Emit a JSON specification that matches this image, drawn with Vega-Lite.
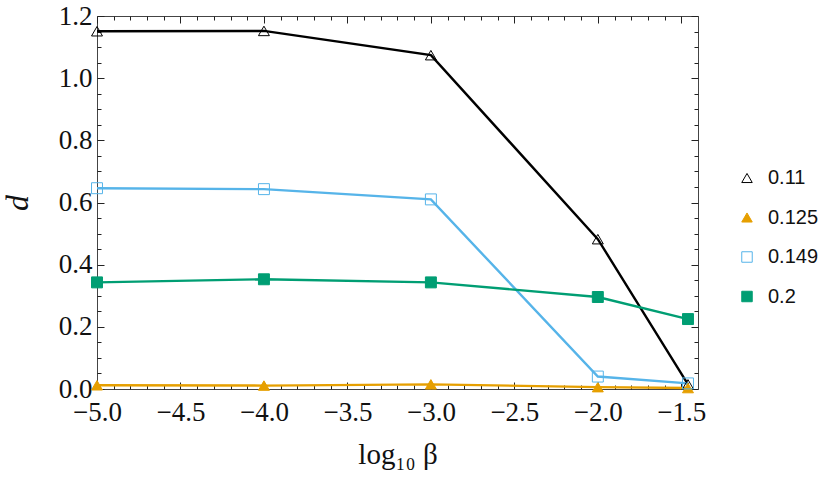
{
  "$schema": "https://vega.github.io/schema/vega-lite/v6.json",
  "width": 601,
  "height": 373,
  "autosize": {"type": "none"},
  "padding": {"left": 97, "top": 16, "right": 132, "bottom": 92},
  "background": "white",
  "config": {
    "view": {"stroke": "#444", "strokeWidth": 1},
    "axis": {"grid": false, "domain": false, "tickColor": "#222", "tickWidth": 1, "labelColor": "#111", "titleColor": "#111"},
    "legend": {"title": null, "labelFont": "Liberation Sans", "labelFontSize": 20, "symbolSize": 110, "rowPadding": 19.5, "labelOffset": 11, "symbolStrokeWidth": 1, "labelColor": "#111"}
  },
  "data": {
    "values": [
      {"series": "0.11", "curve": "a", "x": -5.0, "d": 1.151},
      {"series": "0.11", "curve": "a", "x": -4.0, "d": 1.152},
      {"series": "0.11", "curve": "a", "x": -3.0, "d": 1.074},
      {"series": "0.11", "curve": "a", "x": -2.0, "d": 0.482},
      {"series": "0.11", "curve": "a", "x": -1.46, "d": 0.015},
      {"series": "0.125", "curve": "b", "x": -5.0, "d": 0.012},
      {"series": "0.125", "curve": "b", "x": -4.0, "d": 0.011},
      {"series": "0.125", "curve": "b", "x": -3.0, "d": 0.015},
      {"series": "0.125", "curve": "b", "x": -2.0, "d": 0.006},
      {"series": "0.125", "curve": "b", "x": -1.46, "d": 0.003},
      {"series": "0.149", "curve": "c", "x": -5.0, "d": 0.646},
      {"series": "0.149", "curve": "c", "x": -4.0, "d": 0.643},
      {"series": "0.149", "curve": "c", "x": -3.0, "d": 0.61},
      {"series": "0.149", "curve": "c", "x": -2.0, "d": 0.04},
      {"series": "0.149", "curve": "c", "x": -1.46, "d": 0.018},
      {"series": "0.2", "curve": "d", "x": -5.0, "d": 0.343},
      {"series": "0.2", "curve": "d", "x": -4.0, "d": 0.353},
      {"series": "0.2", "curve": "d", "x": -3.0, "d": 0.343},
      {"series": "0.2", "curve": "d", "x": -2.0, "d": 0.296},
      {"series": "0.2", "curve": "d", "x": -1.46, "d": 0.225}
    ]
  },
  "layer": [
    {
      "mark": {"type": "line", "strokeWidth": 2.4},
      "encoding": {
        "x": {
          "field": "x", "type": "quantitative",
          "scale": {"domain": [-5, -1.4], "nice": false, "zero": false},
          "axis": {
            "orient": "bottom",
            "values": [-5, -4.5, -4, -3.5, -3, -2.5, -2, -1.5],
            "format": ".1f", "ticks": false,
            "labelFont": "Liberation Serif", "labelFontSize": 27, "labelPadding": 10, "labelFlush": false,
            "title": "log₁₀ β", "titleFont": "Liberation Serif", "titleFontSize": 29, "titleFontWeight": "normal", "titlePadding": 15
          }
        },
        "y": {
          "field": "d", "type": "quantitative",
          "scale": {"domain": [0, 1.2], "nice": false},
          "axis": {
            "orient": "left",
            "values": [0, 0.2, 0.4, 0.6, 0.8, 1.0, 1.2],
            "format": ".1f", "ticks": false,
            "labelFont": "Liberation Serif", "labelFontSize": 27, "labelPadding": 5, "labelFlush": false,
            "title": "d", "titleFont": "Liberation Serif", "titleFontStyle": "italic", "titleFontSize": 32, "titleFontWeight": "normal", "titlePadding": 24
          }
        },
        "detail": {"field": "series"},
        "color": {
          "field": "curve", "type": "nominal",
          "scale": {"domain": ["a", "b", "c", "d"], "range": ["#000000", "#E69F00", "#56B4E9", "#009E73"]},
          "legend": null
        }
      }
    },
    {
      "mark": {"type": "point", "filled": true, "size": 120, "strokeWidth": 1, "opacity": 1},
      "encoding": {
        "x": {
          "field": "x", "type": "quantitative",
          "axis": {
            "orient": "top",
            "values": [-5, -4.9, -4.8, -4.7, -4.6, -4.5, -4.4, -4.3, -4.2, -4.1, -4, -3.9, -3.8, -3.7, -3.6, -3.5, -3.4, -3.3, -3.2, -3.1, -3, -2.9, -2.8, -2.7, -2.6, -2.5, -2.4, -2.3, -2.2, -2.1, -2, -1.9, -1.8, -1.7, -1.6, -1.5],
            "labels": false, "title": null,
            "tickSize": {"condition": {"test": "abs(datum.value*2-round(datum.value*2))<0.01", "value": -7}, "value": -4}
          }
        },
        "y": {
          "field": "d", "type": "quantitative",
          "axis": {
            "orient": "right",
            "values": [0, 0.05, 0.1, 0.15, 0.2, 0.25, 0.3, 0.35, 0.4, 0.45, 0.5, 0.55, 0.6, 0.65, 0.7, 0.75, 0.8, 0.85, 0.9, 0.95, 1.0, 1.05, 1.1, 1.15, 1.2],
            "labels": false, "title": null,
            "tickSize": {"condition": {"test": "abs(datum.value*5-round(datum.value*5))<0.01", "value": -7}, "value": -4}
          }
        },
        "shape": {
          "field": "series", "type": "nominal",
          "scale": {"domain": ["0.11", "0.125", "0.149", "0.2"], "range": ["triangle-up", "triangle-up", "square", "square"]},
          "legend": {"orient": "none", "legendX": 640, "legendY": 152}
        },
        "stroke": {
          "field": "series", "type": "nominal",
          "scale": {"domain": ["0.11", "0.125", "0.149", "0.2"], "range": ["#000000", "#E69F00", "#56B4E9", "#009E73"]},
          "legend": {"orient": "none", "legendX": 640, "legendY": 152}
        },
        "fill": {
          "field": "series", "type": "nominal",
          "scale": {"domain": ["0.11", "0.125", "0.149", "0.2"], "range": ["transparent", "#E69F00", "transparent", "#009E73"]},
          "legend": {"orient": "none", "legendX": 640, "legendY": 152}
        }
      }
    },
    {
      "mark": {"type": "point", "opacity": 0, "size": 1},
      "encoding": {
        "x": {
          "field": "x", "type": "quantitative",
          "axis": {
            "orient": "bottom",
            "values": [-5, -4.9, -4.8, -4.7, -4.6, -4.5, -4.4, -4.3, -4.2, -4.1, -4, -3.9, -3.8, -3.7, -3.6, -3.5, -3.4, -3.3, -3.2, -3.1, -3, -2.9, -2.8, -2.7, -2.6, -2.5, -2.4, -2.3, -2.2, -2.1, -2, -1.9, -1.8, -1.7, -1.6, -1.5],
            "labels": false, "title": null,
            "tickSize": {"condition": {"test": "abs(datum.value*2-round(datum.value*2))<0.01", "value": -7}, "value": -4}
          }
        },
        "y": {
          "field": "d", "type": "quantitative",
          "axis": {
            "orient": "left",
            "values": [0, 0.05, 0.1, 0.15, 0.2, 0.25, 0.3, 0.35, 0.4, 0.45, 0.5, 0.55, 0.6, 0.65, 0.7, 0.75, 0.8, 0.85, 0.9, 0.95, 1.0, 1.05, 1.1, 1.15, 1.2],
            "labels": false, "title": null,
            "tickSize": {"condition": {"test": "abs(datum.value*5-round(datum.value*5))<0.01", "value": -7}, "value": -4}
          }
        }
      }
    }
  ],
  "resolve": {"axis": {"x": "independent", "y": "independent"}}
}
